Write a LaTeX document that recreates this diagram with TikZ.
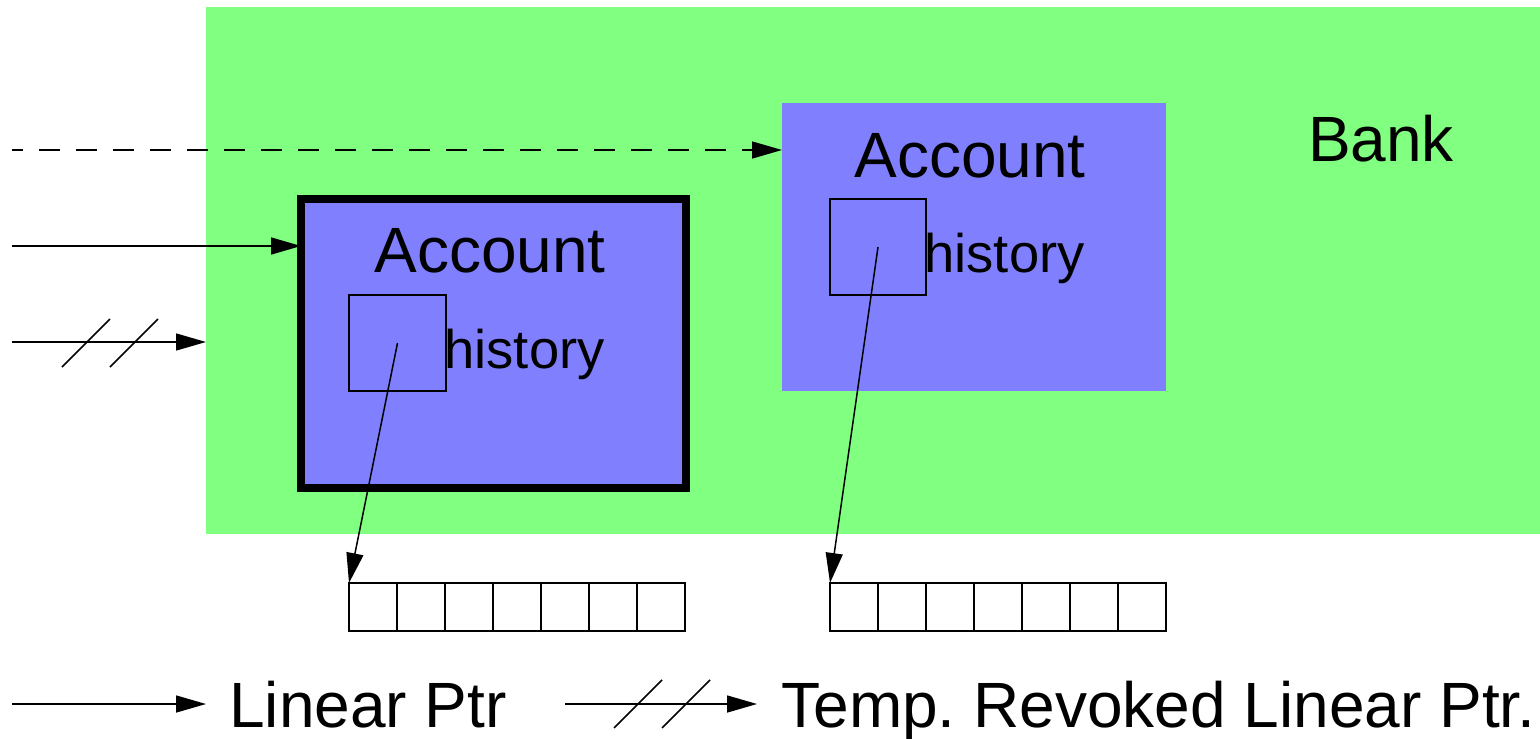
\documentclass[tikz,border=0pt]{standalone}
\usepackage{fontspec}
\setmainfont{Liberation Sans}
\usetikzlibrary{arrows.meta}
\frenchspacing

\definecolor{bankgreen}{RGB}{128,255,128}
\definecolor{acctblue}{RGB}{128,128,255}

\tikzset{
  box/.style={rectangle, inner sep=0pt, outer sep=0pt},
  cell/.style={box, draw, line width=0.75pt, minimum width=24pt, minimum height=24pt},
  big/.style={inner sep=0pt, font=\fontsize{32}{36}\selectfont},
  small/.style={inner sep=0pt, font=\fontsize{27.2}{30}\selectfont},
  ptr/.style={line width=0.75pt, -{Triangle[length=15pt,width=8.5pt]}},
  slash/.style={line width=0.75pt},
}

\begin{document}
\begin{tikzpicture}[x=0.5pt, y=-0.5pt]
\useasboundingbox (0,0) rectangle (1540,738);

% bank area
\node[box, fill=bankgreen, minimum width=667pt, minimum height=263.5pt] (bank) at (873,270.5) {};
\node[big, anchor=base] (banklbl) at (1381,162) {Bank};

% first account (held by a linear pointer)
\node[box, fill=acctblue, draw, line width=4pt, minimum width=192.5pt, minimum height=144.5pt] (accA) at (493.5,343.5) {};
\node[big, anchor=base] at (490,272) {Account};
\node[box, draw, line width=0.75pt, minimum width=48.5pt, minimum height=48pt] (histA) at (397.5,343) {};
\node[small, anchor=base west] at (444,368) {history};

% second account
\node[box, fill=acctblue, minimum width=192pt, minimum height=144pt] (accB) at (974,247) {};
\node[big, anchor=base] at (970,177) {Account};
\node[box, draw, line width=0.75pt, minimum width=48pt, minimum height=48pt] (histB) at (878,247) {};
\node[small, anchor=base west] at (924,272) {history};

% history arrays
\foreach \i in {0,...,6} {
  \node[cell] (ca\i) at (373+48*\i,607) {};
  \node[cell] (cb\i) at (854+48*\i,607) {};
}

% pointers from the history fields into the arrays
\draw[ptr] (histA.center) -- (ca0.north west);
\draw[ptr] (histB.center) -- (cb0.north west);

% incoming pointers
\coordinate (inD) at (12,150);
\coordinate (inL) at (12,246);
\coordinate (inT) at (12,342);
\draw[ptr, dash pattern=on 10.5pt off 8pt, dash phase=5pt] (inD) -- (accB.west |- inD);
\draw[ptr] (inL) -- (accA.west |- inL);
\draw[ptr] (inT) -- (bank.west |- inT);
\draw[slash] ([shift={(50,25)}]inT) -- ++(48,-48);
\draw[slash] ([shift={(98,25)}]inT) -- ++(48,-48);

% legend
\coordinate (lgL) at (12,704);
\coordinate (lgLend) at (206,704);
\draw[ptr] (lgL) -- (lgLend);
\node[big, anchor=base west] (lgLtxt) at (229,727) {Linear Ptr};

\coordinate (lgT) at (565,704);
\coordinate (lgTend) at (757,704);
\draw[ptr] (lgT) -- (lgTend);
\draw[slash] ([shift={(49,24)}]lgT) -- ++(48,-48);
\draw[slash] ([shift={(97,24)}]lgT) -- ++(48,-48);
\node[big, anchor=base west] (lgTtxt) at (781,727) {Temp. Revoked Linear Ptr.};
\end{tikzpicture}
\end{document}
